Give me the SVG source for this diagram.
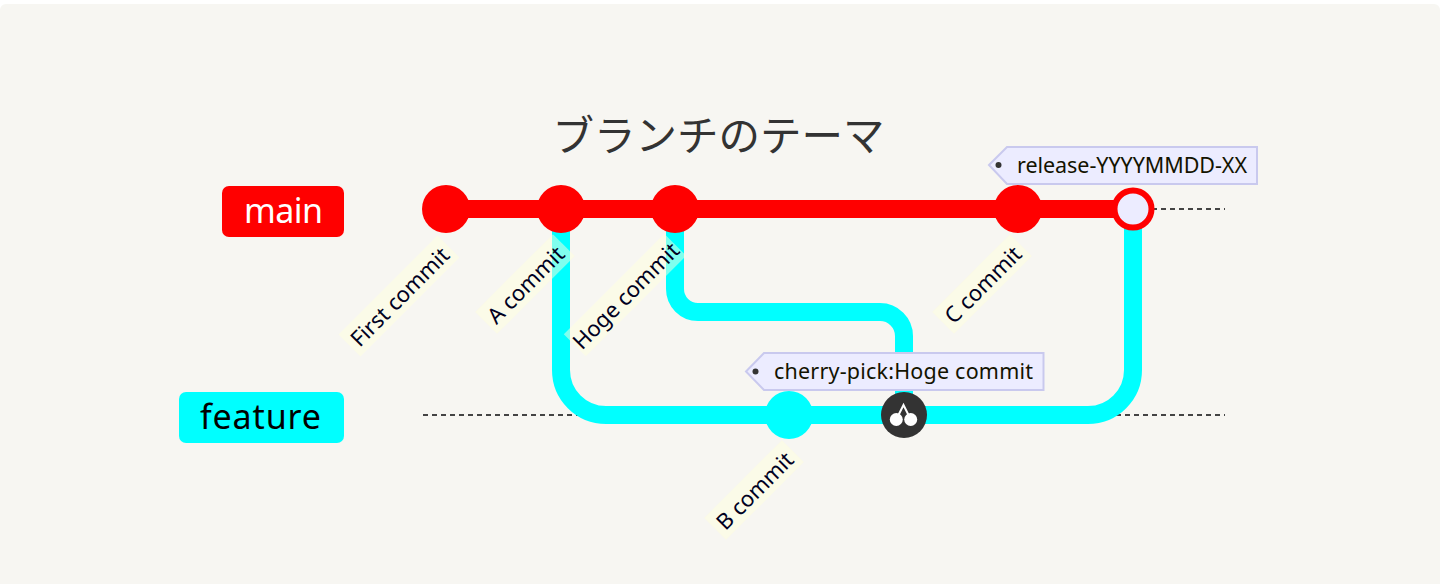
<svg xmlns="http://www.w3.org/2000/svg" width="1440" height="584" viewBox="0 0 1440 584">
<style>
text{font-family:"Noto Sans","Open Sans","DejaVu Sans",sans-serif}
.title{font-family:"Noto Sans CJK JP","Noto Sans",sans-serif;font-size:41.500px;fill:#333;text-anchor:middle}
.dash{stroke:#444;stroke-width:2.200;stroke-dasharray:5 4;fill:none}
.cy{stroke:#0ff;stroke-width:18;fill:none}
.mainl{stroke:#f00;stroke-width:18;fill:none}
.lb{fill:#ffffde;fill-opacity:.5}
.lt{font-size:22px;fill:#000021;text-anchor:middle;dominant-baseline:central}
.tag{fill:#ececff;stroke:#c9c9ee;stroke-width:2}
.tt{font-size:21.500px;fill:#131300}
.dot{fill:#333}
.bt{font-size:34px}
</style>
<rect width="1440" height="584" fill="#fff"/>
<rect id="background" x="0" y="4" width="1440" height="590" rx="6" fill="#f7f6f2"/>
<text class="title" x="718.500" y="151">ブランチのテーマ</text>
<g id="connectors">
<path class="dash" d="M423 415H1225"/>
<path class="dash" d="M423 209H1225"/>
<path class="cy" d="M561 209V370A45 45 0 0 0 606 415H1088A45 45 0 0 0 1133 370V209"/>
<path class="cy" d="M675 209V289A23 23 0 0 0 698 312H880A24 24 0 0 1 904 336V415"/>
<path class="mainl" d="M446 209H1133"/>
</g>
<g id="branch-main"><rect x="222" y="186" width="122" height="51" rx="7" fill="#f00"/><text class="bt" x="244" y="222.500" fill="#fff" textLength="79">main</text></g>
<g id="branch-feature"><rect x="179" y="392" width="165" height="51" rx="7" fill="#0ff"/><text class="bt" x="200" y="428.500" fill="#000" textLength="121">feature</text></g>
<g id="commit-first"><circle cx="446" cy="209" r="24" fill="#f00"/>
<g transform="translate(399 296) rotate(-45)"><rect class="lb" x="-70" y="-15.500" width="140" height="31"/><text class="lt">First commit</text></g></g>
<g id="commit-a"><circle cx="561" cy="209" r="24" fill="#f00"/>
<g transform="translate(525 284) rotate(-45)"><rect class="lb" x="-55" y="-15.500" width="110" height="31"/><text class="lt">A commit</text></g></g>
<g id="commit-hoge"><circle cx="675" cy="209" r="24" fill="#f00"/>
<g transform="translate(625 295) rotate(-45)"><rect class="lb" x="-71" y="-15.500" width="142" height="31"/><text class="lt">Hoge commit</text></g></g>
<g id="commit-c"><circle cx="1018" cy="209" r="24" fill="#f00"/>
<g transform="translate(982 284) rotate(-45)"><rect class="lb" x="-55" y="-15.500" width="110" height="31"/><text class="lt">C commit</text></g></g>
<g id="commit-b"><circle cx="789" cy="415" r="24" fill="#0ff"/>
<g transform="translate(754 490) rotate(-45)"><rect class="lb" x="-55" y="-15.500" width="110" height="31"/><text class="lt">B commit</text></g></g>
<g id="commit-cherry"><circle cx="904" cy="415" r="23" fill="#333"/>
<path d="M898 416L903.500 405L909 416" fill="none" stroke="#fff" stroke-width="2"/>
<circle cx="896.300" cy="419.500" r="6.500" fill="#fff"/><circle cx="910.700" cy="419.500" r="6.500" fill="#fff"/></g>
<g id="commit-release"><circle cx="1133" cy="209" r="18.500" fill="#ececff" stroke="#f00" stroke-width="6"/></g>
<g id="tag-release"><polygon class="tag" points="989,165 1007,147 1257,147 1257,184 1007,184"/><circle class="dot" cx="998.500" cy="165" r="3"/><text class="tt" x="1017" y="172.500" textLength="230">release-YYYYMMDD-XX</text></g>
<g id="tag-cherry"><polygon class="tag" points="746,371.500 764,353 1043.500,353 1043.500,390 764,390"/><circle class="dot" cx="755.500" cy="371.500" r="3"/><text class="tt" x="774" y="378.500" textLength="259">cherry-pick:Hoge commit</text></g>
</svg>
